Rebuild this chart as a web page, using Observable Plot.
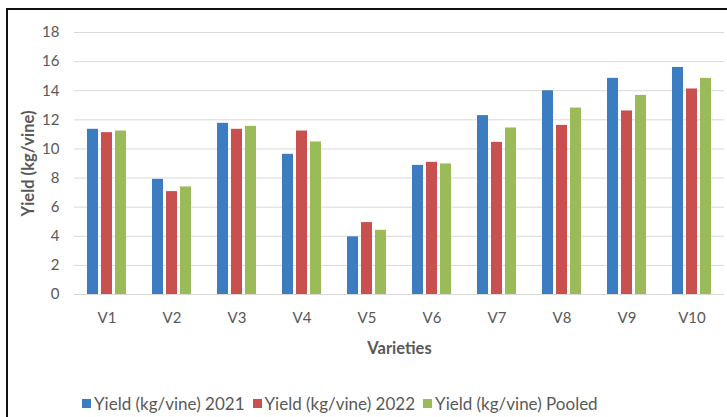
<!DOCTYPE html>
<html>
<head>
<meta charset="utf-8">
<script src="https://cdn.jsdelivr.net/npm/d3@7"></script>
<script src="https://cdn.jsdelivr.net/npm/@observablehq/plot@0.6"></script>
<style>
  html, body { margin: 0; padding: 0; background: #fff; }
  #wrap { position: relative; width: 727px; height: 417px; overflow: hidden; font-family: Lato, sans-serif; }
  #frame { position: absolute; left: 6px; top: 8px; right: -4px; bottom: -4px; border-top: 2px solid #111; border-left: 2px solid #111; pointer-events: none; }
  #chart { position: absolute; left: 0; top: 0; }
  #legend { position: absolute; left: 82px; top: 393px; display: flex; gap: 8px; font-size: 17px; color: #595959; align-items: center; }
  #legend .item { display: flex; align-items: center; }
  #legend .sw { width: 9px; height: 9px; margin-right: 3px; }
  g[aria-label="y-axis label"] text, g[aria-label="fx-axis label"] text { font-weight: bold; font-size: 16.5px; }
</style>
</head>
<body>
<div id="wrap">
  <div id="chart"></div>
  <div id="legend"></div>
  <div id="frame"></div>
</div>
<script>
const varieties = ["V1", "V2", "V3", "V4", "V5", "V6", "V7", "V8", "V9", "V10"];
const yield2021 = [11.35, 7.91, 11.76, 9.63, 3.96, 8.87, 12.29, 14.0, 14.85, 15.6];
const yield2022 = [11.12, 7.07, 11.35, 11.23, 4.94, 9.08, 10.45, 11.62, 12.61, 14.12];
const yieldPooled = [11.23, 7.39, 11.55, 10.48, 4.41, 8.97, 11.44, 12.81, 13.68, 14.85];
const seriesNames = ["Yield (kg/vine) 2021", "Yield (kg/vine) 2022", "Yield (kg/vine) Pooled"];
const seriesColors = ["#3C7DC1", "#C8504E", "#9BBB59"];
const yTicks = [0, 2, 4, 6, 8, 10, 12, 14, 16, 18];

const seriesValues = [yield2021, yield2022, yieldPooled];
const data = varieties.flatMap((v, i) =>
  seriesNames.map((s, k) => ({ variety: v, series: s, value: seriesValues[k][i] }))
);

const chart = Plot.plot({
  width: 727,
  height: 375,
  marginTop: 32,
  marginBottom: 81,
  marginLeft: 72,
  marginRight: 2,
  style: { fontFamily: "Lato, sans-serif", fontSize: "15px", color: "#595959", background: "transparent" },
  fx: { domain: varieties, padding: 0 },
  x: { domain: seriesNames, axis: null, paddingInner: 0.2, paddingOuter: 0.88 },
  y: { domain: [0, 18] },
  color: { domain: seriesNames, range: seriesColors },
  marks: [
    Plot.gridY(yTicks, { stroke: "#d9d9d9", strokeOpacity: 1 }),
    Plot.barY(data, { fx: "variety", x: "series", y: "value", fill: "series" }),
    Plot.axisY(yTicks, { tickSize: 0, tickPadding: 15, label: "Yield (kg/vine)", labelArrow: "none", labelAnchor: "center", labelOffset: 52, fill: "#595959" }),
    Plot.axisFx({ anchor: "bottom", tickSize: 0, tickPadding: 18, label: "Varieties", labelArrow: "none", labelAnchor: "center", labelOffset: 59, fill: "#595959" })
  ]
});
document.getElementById("chart").appendChild(chart);

const legend = document.getElementById("legend");
seriesNames.forEach((s, k) => {
  const item = document.createElement("div");
  item.className = "item";
  const sw = document.createElement("span");
  sw.className = "sw";
  sw.style.background = seriesColors[k];
  const t = document.createElement("span");
  t.textContent = s;
  item.appendChild(sw);
  item.appendChild(t);
  legend.appendChild(item);
});
</script>
</body>
</html>
